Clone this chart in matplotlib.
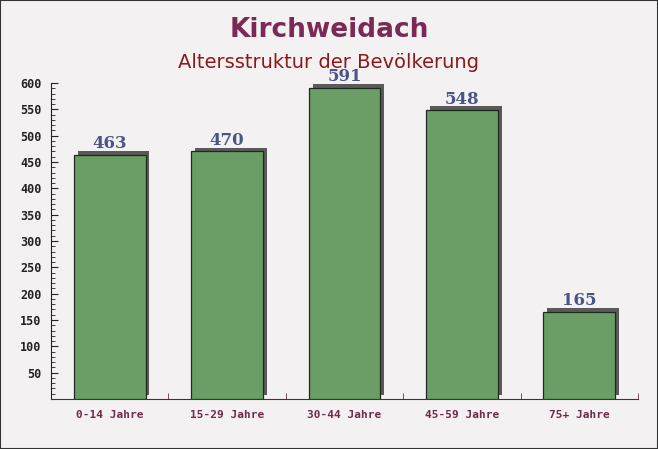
import matplotlib.pyplot as plt
import matplotlib.patheffects as pe
from matplotlib.ticker import MultipleLocator, FixedLocator

categories = ["0-14 Jahre", "15-29 Jahre", "30-44 Jahre", "45-59 Jahre", "75+ Jahre"]
values = [463, 470, 591, 548, 165]
yticks = [50, 100, 150, 200, 250, 300, 350, 400, 450, 500, 550, 600]

fig = plt.figure(figsize=(6.58, 4.49), dpi=100)
fig.patch.set_facecolor("#f4f1f2")
ax = fig.add_axes([51 / 658, 50 / 449, 587 / 658, 316 / 449])
ax.set_facecolor("none")

x = list(range(len(categories)))
bars = ax.bar(x, values, width=0.61, color="#6a9e66", edgecolor="#1e2a1e",
              linewidth=0.9, zorder=3)
for b in bars:
    b.set_path_effects([pe.SimplePatchShadow(offset=(2.8, 2.8), shadow_rgbFace="#5a5a5a",
                                             alpha=1.0), pe.Normal()])

for xi, v in zip(x, values):
    ax.annotate(str(v), (xi, v), xytext=(0, 2), textcoords="offset points",
                ha="center", va="bottom", fontsize=12, fontweight="bold",
                family="DejaVu Serif", color="#4b5486", zorder=4)

ax.set_xlim(-0.5, 4.5)
ax.set_ylim(0, 600)
ax.set_xticks(x)
ax.set_xticklabels(categories, family="DejaVu Sans Mono", fontsize=8,
                   fontweight="bold", color="#6e2a4c")
ax.xaxis.set_minor_locator(FixedLocator([0.5, 1.5, 2.5, 3.5, 4.5]))
ax.tick_params(axis="x", which="major", length=0, pad=8)
ax.tick_params(axis="x", which="minor", length=4, color="#6e2a4c", direction="in")
ax.set_yticks(yticks)
ax.set_yticklabels([str(t) for t in yticks], family="DejaVu Sans Mono",
                   fontsize=8.5, fontweight="bold", color="#222222")
ax.yaxis.set_minor_locator(MultipleLocator(10))
ax.tick_params(axis="y", which="major", length=5, color="#222222", direction="in", pad=7)
ax.tick_params(axis="y", which="minor", length=3, color="#222222", direction="in")

for s in ["top", "right"]:
    ax.spines[s].set_visible(False)
ax.spines["left"].set_color("#222222")
ax.spines["bottom"].set_color("#5e2240")

fig.text(0.5, 1 - 30 / 449, "Kirchweidach", ha="center", va="center",
         fontsize=19, fontweight="bold", color="#7b2a56")
fig.text(0.5, 1 - 62 / 449, "Altersstruktur der Bevölkerung", ha="center",
         va="center", fontsize=14, color="#8b1a1a")

fig.patches.append(plt.Rectangle((0, 0), 1, 1, transform=fig.transFigure,
                                 fill=False, edgecolor="#333333", linewidth=1.5))

fig.savefig("out.png", dpi=100, facecolor=fig.get_facecolor())
